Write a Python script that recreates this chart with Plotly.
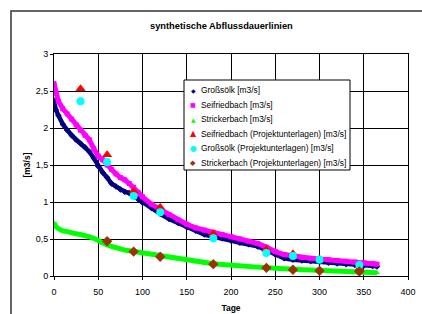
import plotly.graph_objects as go

# ---- data ----
days = [0, 2, 5, 10, 15, 20, 25, 30, 35, 40, 45, 50, 55, 60, 65, 70, 75, 80, 85, 90, 95,
        100, 110, 120, 130, 140, 150, 160, 170, 180, 190, 200, 210, 220, 230, 240, 250,
        260, 270, 280, 290, 300, 310, 320, 330, 340, 350, 360, 365]

grosssoelk = [2.37, 2.25, 2.17, 2.05, 1.97, 1.90, 1.84, 1.79, 1.74, 1.68, 1.59, 1.48, 1.40,
              1.33, 1.25, 1.21, 1.17, 1.14, 1.12, 1.08, 1.04, 0.99, 0.92, 0.84, 0.77, 0.72,
              0.66, 0.61, 0.56, 0.53, 0.51, 0.48, 0.45, 0.43, 0.40, 0.35, 0.29, 0.24, 0.22,
              0.21, 0.20, 0.19, 0.18, 0.17, 0.16, 0.15, 0.14, 0.135, 0.13]

seifriedbach = [2.60, 2.47, 2.36, 2.26, 2.19, 2.12, 2.04, 1.97, 1.90, 1.84, 1.72, 1.62, 1.57,
                1.50, 1.44, 1.38, 1.33, 1.30, 1.25, 1.20, 1.13, 1.07, 0.97, 0.90, 0.83, 0.76,
                0.70, 0.65, 0.62, 0.59, 0.56, 0.53, 0.50, 0.47, 0.44, 0.39, 0.33, 0.29, 0.27,
                0.25, 0.24, 0.23, 0.22, 0.21, 0.20, 0.19, 0.18, 0.17, 0.16]

strickerbach = [0.72, 0.67, 0.64, 0.61, 0.60, 0.58, 0.57, 0.56, 0.55, 0.53, 0.51, 0.48, 0.44,
                0.42, 0.40, 0.38, 0.36, 0.35, 0.34, 0.33, 0.32, 0.31, 0.29, 0.27, 0.25, 0.23,
                0.21, 0.19, 0.17, 0.165, 0.155, 0.15, 0.14, 0.13, 0.12, 0.11, 0.10, 0.095,
                0.09, 0.085, 0.08, 0.075, 0.07, 0.065, 0.06, 0.055, 0.05, 0.047, 0.045]

proj_days = [30, 60, 90, 120, 180, 240, 270, 300, 345]
seifried_proj = [2.53, 1.64, 1.15, 0.93, 0.57, 0.36, 0.30, 0.23, 0.10]
grosssoelk_proj = [2.36, 1.54, 1.08, 0.86, 0.51, 0.31, 0.27, 0.22, 0.15]
stricker_proj_days = [60, 90, 120, 180, 240, 270, 300, 345]
stricker_proj = [0.47, 0.33, 0.26, 0.16, 0.11, 0.085, 0.07, 0.06]

x_ticks = [0, 50, 100, 150, 200, 250, 300, 350, 400]
y_ticks = [0, 0.5, 1, 1.5, 2, 2.5, 3]

title_text = "synthetische Abflussdauerlinien"
x_title = "Tage"
y_title = "[m3/s]"

legend_entries = [
    ("◆", "#000080", 6, "Großsölk [m3/s]"),
    ("■", "#FF00FF", 6, "Seifriedbach [m3/s]"),
    ("▲", "#00FF00", 6, "Strickerbach [m3/s]"),
    ("▲", "#FF0000", 8, "Seifriedbach (Projektunterlagen) [m3/s]"),
    ("●", "#00FFFF", 8, "Großsölk (Projektunterlagen) [m3/s]"),
    ("◆", "#993300", 7, "Strickerbach (Projektunterlagen) [m3/s]"),
]

FONT = "Liberation Sans, Arial, sans-serif"

fig = go.Figure()

# dense duration curves
fig.add_trace(go.Scatter(x=days, y=grosssoelk, mode="lines+markers", name="Großsölk [m3/s]",
                         line=dict(color="#000080", width=4.5),
                         marker=dict(symbol="diamond", size=5, color="#000080")))
fig.add_trace(go.Scatter(x=days, y=seifriedbach, mode="lines+markers", name="Seifriedbach [m3/s]",
                         line=dict(color="#FF00FF", width=5),
                         marker=dict(symbol="square", size=5, color="#FF00FF")))
fig.add_trace(go.Scatter(x=days, y=strickerbach, mode="lines+markers", name="Strickerbach [m3/s]",
                         line=dict(color="#00FF00", width=5),
                         marker=dict(symbol="triangle-up", size=5, color="#00FF00")))
# project points
fig.add_trace(go.Scatter(x=proj_days, y=seifried_proj, mode="markers",
                         name="Seifriedbach (Projektunterlagen) [m3/s]",
                         marker=dict(symbol="triangle-up", size=9, color="#FF0000")))
fig.add_trace(go.Scatter(x=proj_days, y=grosssoelk_proj, mode="markers",
                         name="Großsölk (Projektunterlagen) [m3/s]",
                         marker=dict(symbol="circle", size=8, color="#00FFFF")))
fig.add_trace(go.Scatter(x=stricker_proj_days, y=stricker_proj, mode="markers",
                         name="Strickerbach (Projektunterlagen) [m3/s]",
                         marker=dict(symbol="diamond", size=8, color="#993300")))

W, H = 422, 314
ML, MR, MT, MB = 54, 14, 54, 38
PW, PH = W - ML - MR, H - MT - MB


def px2x(px):
    return (px - ML) / PW


def px2y(py):
    return (H - MB - py) / PH


shapes = [
    # outer chart border (extends beyond the page to the right and bottom)
    dict(type="rect", xref="paper", yref="paper",
         x0=px2x(11), x1=px2x(440), y0=px2y(11), y1=px2y(340),
         line=dict(color="#333333", width=1.5), fillcolor="rgba(0,0,0,0)", layer="below"),
    # legend box
    dict(type="rect", xref="paper", yref="paper",
         x0=px2x(184), x1=px2x(350), y0=px2y(170), y1=px2y(80),
         line=dict(color="#000000", width=1), fillcolor="white", layer="above"),
]

annotations = [
    dict(text="<b>%s</b>" % title_text, xref="paper", yref="paper",
         x=px2x(221.5), y=px2y(26), xanchor="center", yanchor="middle",
         showarrow=False, font=dict(family=FONT, size=9.3, color="#000000")),
]

entry_y = [90, 104.6, 119.2, 133.8, 148.4, 163]
for (sym, col, sz, label), ey in zip(legend_entries, entry_y):
    annotations.append(dict(text=sym, xref="paper", yref="paper", x=px2x(193), y=px2y(ey),
                            xanchor="center", yanchor="middle", showarrow=False,
                            font=dict(family="DejaVu Sans", size=sz, color=col)))
    annotations.append(dict(text=label, xref="paper", yref="paper", x=px2x(198.5), y=px2y(ey),
                            xanchor="left", yanchor="middle", showarrow=False,
                            font=dict(family=FONT, size=8.4, color="#000000")))

fig.update_layout(
    width=W, height=H,
    margin=dict(l=ML, r=MR, t=MT, b=MB, autoexpand=False),
    paper_bgcolor="white", plot_bgcolor="white",
    showlegend=False,
    separators=",.",
    font=dict(family=FONT, size=9, color="#000000"),
    shapes=shapes,
    annotations=annotations,
)

fig.update_xaxes(range=[0, 400], tickvals=x_ticks, ticks="outside", ticklen=3,
                 tickcolor="#000000", showgrid=True, gridcolor="#000000", gridwidth=1,
                 showline=True, linecolor="#000000", linewidth=1, mirror=True,
                 zeroline=False, tickfont=dict(size=9), ticklabelstandoff=4,
                 automargin=False,
                 title=dict(text="<b>%s</b>" % x_title, font=dict(size=8.5), standoff=9))
fig.update_yaxes(range=[0, 3], tickvals=y_ticks, ticks="outside", ticklen=3,
                 tickcolor="#000000", showgrid=True, gridcolor="#000000", gridwidth=1,
                 showline=True, linecolor="#000000", linewidth=1, mirror=True,
                 zeroline=False, tickfont=dict(size=9), automargin=False,
                 title=dict(text="<b>%s</b>" % y_title, font=dict(size=8.5), standoff=3))

fig.write_html("out.html", config={"displayModeBar": False},
               post_script="document.body.style.margin='0';document.body.style.overflow='hidden';")
